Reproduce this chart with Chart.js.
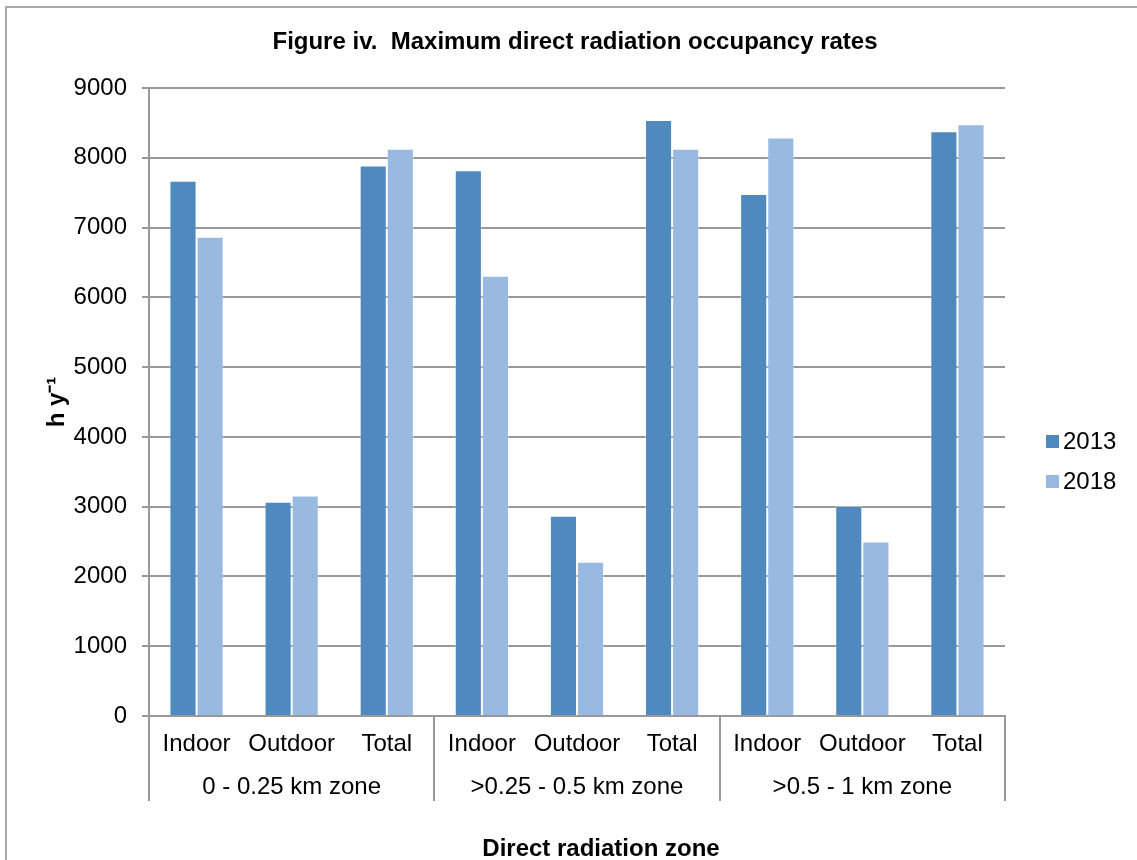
<!DOCTYPE html>
<html>
<head>
<meta charset="utf-8">
<script src="https://cdn.jsdelivr.net/npm/chart.js@4"></script>
<style>
  html, body { margin: 0; padding: 0; background: #fff; }
  #wrap { width: 1137px; height: 860px; position: relative; }
</style>
</head>
<body>
<div id="wrap"><canvas id="c"></canvas></div>
<script>
// Values (hours per year).
const categories = ["Indoor", "Outdoor", "Total", "Indoor", "Outdoor", "Total", "Indoor", "Outdoor", "Total"];
const zones = ["0 - 0.25 km zone", ">0.25 - 0.5 km zone", ">0.5 - 1 km zone"];
const seriesNames = ["2013", "2018"];
const values2013 = [7670, 3070, 7890, 7820, 2870, 8540, 7480, 3010, 8380];
const values2018 = [6870, 3160, 8130, 6310, 2210, 8130, 8290, 2500, 8480];
const yTicks = [0, 1000, 2000, 3000, 4000, 5000, 6000, 7000, 8000, 9000];

const FONT = "'Liberation Sans', Arial, sans-serif";
const colors = ["#4f89bd", "#98b9e0"];
const gridColor = "#999";

// Frame, zone labels + separators, legend, titles.
const decor = {
  id: "decor",
  beforeDraw(chart) {
    const ctx = chart.ctx;
    ctx.save();
    ctx.strokeStyle = "#aaa";
    ctx.lineWidth = 2;
    ctx.beginPath();
    ctx.moveTo(6, 860); ctx.lineTo(6, 7); ctx.lineTo(1137, 7);
    ctx.stroke();
    ctx.restore();
  },
  afterDraw(chart) {
    const { ctx, chartArea: a, scales: { x } } = chart;
    const per = categories.length / zones.length;
    const step = (a.right - a.left) / categories.length;
    ctx.save();
    ctx.strokeStyle = gridColor;
    ctx.lineWidth = 2;
    ctx.fillStyle = "#000";
    ctx.textAlign = "center";
    ctx.textBaseline = "middle";
    ctx.font = "24px " + FONT;
    for (let g = 0; g <= zones.length; g++) {
      const px = g < zones.length ? x.getPixelForTick(g * per) - step / 2 : a.right;
      ctx.beginPath();
      ctx.moveTo(Math.round(px), a.bottom);
      ctx.lineTo(Math.round(px), a.bottom + 85);
      ctx.stroke();
    }
    zones.forEach((z, g) => {
      const cx = (x.getPixelForTick(g * per) + x.getPixelForTick(g * per + per - 1)) / 2;
      ctx.fillText(z, cx, a.bottom + 71);
    });
    // title + axis title
    ctx.font = "bold 24px " + FONT;
    ctx.fillText("Figure iv.  Maximum direct radiation occupancy rates", 575, 42);
    ctx.fillText("Direct radiation zone", 601, 849);
    // legend
    ctx.font = "24px " + FONT;
    ctx.textAlign = "left";
    seriesNames.forEach((n, i) => {
      const y = 441 + i * 40;
      ctx.fillStyle = colors[i];
      ctx.fillRect(1046, y - 6, 13, 13);
      ctx.fillStyle = "#000";
      ctx.fillText(n, 1063, y + 1);
    });
    ctx.restore();
  }
};

new Chart(document.getElementById("c"), {
  type: "bar",
  data: {
    labels: categories,
    datasets: [
      { label: seriesNames[0], data: values2013, backgroundColor: colors[0], borderColor: "rgba(255,255,255,0.3)", borderWidth: 1 },
      { label: seriesNames[1], data: values2018, backgroundColor: colors[1], borderColor: "rgba(255,255,255,0.3)", borderWidth: 1 },
    ],
  },
  options: {
    responsive: true,
    maintainAspectRatio: false,
    animation: false,
    layout: { padding: { left: 10, right: 132, top: 88, bottom: 0 } },
    datasets: { bar: { categoryPercentage: 0.57, barPercentage: 1.0 } },
    plugins: { legend: { display: false }, tooltip: { enabled: false } },
    scales: {
      x: {
        grid: { display: false },
        border: { display: true, color: gridColor, width: 2 },
        ticks: { color: "#000", font: { size: 24, family: FONT }, autoSkip: false, maxRotation: 0, padding: 6 },
        afterFit(s) { s.height = 144; },
      },
      y: {
        min: 0, max: 9000,
        afterBuildTicks(s) { s.ticks = yTicks.map((v) => ({ value: v })); },
        grid: { color: gridColor, lineWidth: 2, tickLength: 7 },
        border: { display: true, color: gridColor, width: 2 },
        ticks: { color: "#000", font: { size: 24, family: FONT }, padding: 15, callback: (v) => String(v) },
        title: { display: true, text: "h y⁻¹", color: "#000", font: { size: 24, weight: "bold", family: FONT }, padding: { top: 33, bottom: 0 } },
        afterFit(s) { s.width = 139; },
      },
    },
  },
  plugins: [decor],
});
</script>
</body>
</html>
